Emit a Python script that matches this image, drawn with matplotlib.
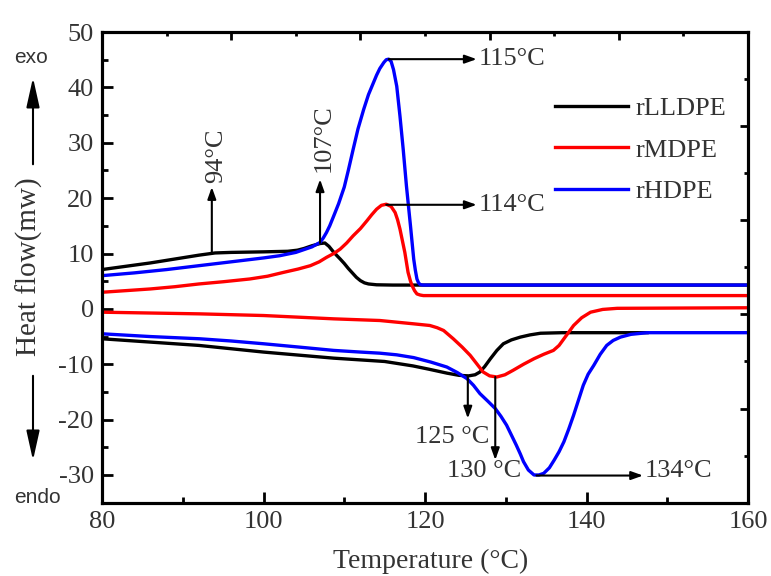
import matplotlib
matplotlib.use("Agg")
import matplotlib.pyplot as plt
from matplotlib.patches import FancyArrowPatch

plt.rcParams['font.family'] = ['Liberation Serif', 'DejaVu Serif']
plt.rcParams['axes.unicode_minus'] = False

# ---------------- data ----------------
# cooling (crystallisation) curves
t_cool_ll = [80, 83, 86, 89, 92, 94, 96, 100, 103, 104.2, 105, 106, 107, 107.6, 108.1, 108.6, 109.1, 109.5, 110.0,
             110.5, 111, 111.5, 112, 112.5, 113, 114, 116, 160]
v_cool_ll = [7.1, 7.7, 8.3, 9.0, 9.7, 10.1, 10.2, 10.3, 10.4, 10.6, 10.9, 11.4, 11.8, 11.9, 11.3, 10.4, 9.6, 9.0, 8.2,
             7.3, 6.5, 5.7, 5.1, 4.7, 4.5, 4.35, 4.3, 4.3]

t_cool_md = [80, 83, 86, 89, 92, 95, 98.3, 100.5, 102.5, 104.3, 105.8, 106.9, 107.8, 108.7, 109.5, 110.3, 111.1, 112,
             112.8, 113.4, 114.0, 114.6, 115.2, 115.8, 116.3, 116.6, 116.9, 117.2, 117.5, 117.9, 118.2, 118.4, 118.7,
             119.0, 119.4, 119.8, 160]
v_cool_md = [3.0, 3.3, 3.6, 4.0, 4.5, 4.9, 5.4, 5.9, 6.6, 7.2, 7.8, 8.5, 9.3, 10.0, 10.8, 11.9, 13.2, 14.5,
             15.9, 17.0, 18.0, 18.7, 18.9, 18.5, 17.4, 16.1, 14.4, 12.3, 10.2, 6.6, 5.0, 4.2, 3.3,
             2.7, 2.5, 2.4, 2.4]

t_cool_hd = [80, 84, 88, 92, 96, 100, 102, 104, 106, 107, 107.4, 107.8, 108.2, 108.7, 109.3, 110, 110.5, 111.1, 111.7,
             112.4, 113.0, 113.6, 114.0, 114.4, 114.9, 115.2, 115.5, 115.8, 116.1, 116.5, 116.9, 117.3, 117.7, 118.2,
             118.6, 118.8, 119.0, 119.2, 119.4, 119.7, 160]
v_cool_hd = [6.0, 6.5, 7.1, 7.8, 8.5, 9.2, 9.6, 10.2, 11.2, 12.0, 12.8, 13.8, 15.0, 16.8, 19.0, 22.0, 25.0, 28.8, 32.5,
             36.0, 38.7, 40.8, 42.2, 43.4, 44.5, 45.0, 45.1, 44.7, 43.2, 40.2, 34.8, 28.8, 22.2, 15.0,
             9.0, 7.0, 5.4, 4.7, 4.4, 4.3, 4.3]

# heating (melting) curves
t_heat_ll = [80, 86, 92, 100, 108.7, 115, 118.5, 120.5, 122.7, 124.2, 125.4, 126.2, 126.8, 127.4, 128.1, 128.9,
             129.7, 130.7, 131.8, 133, 134.3, 137, 147.5]
v_heat_ll = [-5.4, -6.0, -6.6, -7.8, -8.9, -9.5, -10.3, -10.9, -11.6, -12.0, -12.1, -11.9, -11.4, -10.4, -9.0, -7.5,
             -6.3, -5.6, -5.1, -4.7, -4.4, -4.3, -4.3]

t_heat_md = [80, 92.1, 100, 108.7, 114.4, 116.5, 118.6, 120.6, 121.5, 122.3, 123.5, 124.6, 125.6, 126.4, 127.2, 128.0,
             128.9, 129.9, 130.9, 132.2, 133.5, 134.7, 135.9, 136.6, 137.2, 137.8, 138.4, 139.4, 140.5, 142, 143.8, 160]
v_heat_md = [-0.6, -0.9, -1.2, -1.8, -2.1, -2.4, -2.7, -3.0, -3.4, -3.9, -5.4, -6.9, -8.4, -9.9, -11.4, -12.1,
             -12.3, -11.9, -11.1, -10.0, -9.0, -8.2, -7.5, -6.6, -5.4, -4.2, -3.0, -1.6, -0.6, -0.1, 0.1, 0.2]

t_heat_hd = [80, 86, 92.1, 96, 100, 104.4, 108.7, 112, 114.4, 116.5, 118.6, 120.7, 122.7, 124, 125.2, 126, 126.8,
             127.8, 128.7, 129.4, 130.1, 130.7, 131.3, 131.8, 132.2, 132.8, 133.5, 134.1, 134.7, 135.4, 136, 136.6,
             137.2, 137.8, 138.4, 139.0, 139.6, 140.2, 140.9, 141.7, 142.5, 143.3, 144.2, 145.5, 147.5, 160]
v_heat_hd = [-4.5, -5.0, -5.4, -5.8, -6.3, -6.9, -7.5, -7.8, -8.0, -8.3, -8.8, -9.6, -10.5, -11.5, -12.6, -13.8, -15.3,
             -16.7, -18.0, -19.4, -21.0, -22.8, -24.6, -26.2, -27.6, -29.1, -30.0, -30.0, -29.7, -28.7, -27.3, -25.8,
             -24.0, -21.7, -19.2, -16.5, -13.8, -11.8, -10.2, -8.2, -6.6, -5.7, -5.1, -4.6, -4.3, -4.3]

labels = ['rLLDPE', 'rMDPE', 'rHDPE']
colors = ['black', '#ff0000', '#0000ff']

xticks = [80, 100, 120, 140, 160]
yticks = [-30, -20, -10, 0, 10, 20, 30, 40, 50]

# ---------------- figure ----------------
fig = plt.figure(figsize=(7.71, 5.76), dpi=100)
ax = fig.add_axes([0.1323, 0.1273, 0.8379, 0.8171])

lw = 2.4
ax.plot(t_cool_ll, v_cool_ll, color=colors[0], lw=lw, label=labels[0], zorder=3)
ax.plot(t_cool_md, v_cool_md, color=colors[1], lw=lw, label=labels[1], zorder=3)
ax.plot(t_cool_hd, v_cool_hd, color=colors[2], lw=lw, label=labels[2], zorder=3)
ax.plot(t_heat_ll, v_heat_ll, color=colors[0], lw=lw, zorder=3)
ax.plot(t_heat_md, v_heat_md, color=colors[1], lw=lw, zorder=3)
ax.plot(t_heat_hd, v_heat_hd, color=colors[2], lw=lw, zorder=3)

ax.set_xlim(80, 160)
ax.set_ylim(-35, 50)
ax.set_xticks(xticks)
ax.set_xticks([90, 110, 130, 150], minor=True)
ax.set_yticks(yticks)
ax.set_yticks([-25, -15, -5, 5, 15, 25, 35, 45], minor=True)
ax.tick_params(axis='both', which='major', direction='in', length=8, width=2, labelsize=19,
               labelcolor='#333333', pad=6)
ax.tick_params(axis='both', which='minor', direction='in', length=4, width=2)
for s in ax.spines.values():
    s.set_linewidth(2.2)

# top / right ticks dividing axes into ten parts
axt = ax.twiny()
axt.set_xlim(80, 160)
axt.set_xticks([96, 112, 128, 144])
axt.set_xticks([88, 104, 120, 136, 152], minor=True)
axt.tick_params(axis='x', which='major', direction='in', length=6, width=2, labeltop=False)
axt.tick_params(axis='x', which='minor', direction='in', length=3, width=2)
axr = ax.twinx()
axr.set_ylim(-35, 50)
axr.set_yticks([-18, -1, 16, 33])
axr.set_yticks([-26.5, -9.5, 7.5, 24.5, 41.5], minor=True)
axr.tick_params(axis='y', which='major', direction='in', length=6, width=2, labelright=False)
axr.tick_params(axis='y', which='minor', direction='in', length=3, width=2)
for a in (axt, axr):
    for s in a.spines.values():
        s.set_linewidth(2.2)

# annotations
def arrow(xy, xytext):
    ax.annotate('', xy=xy, xytext=xytext,
                arrowprops=dict(arrowstyle='-|>,head_length=0.7,head_width=0.25', lw=1.5, color='black',
                                shrinkA=0, shrinkB=0), zorder=4)

fs = 19
arrow((93.6, 22), (93.6, 10.2))
ax.text(94.1, 22.8, '94°C', rotation=90, ha='center', va='bottom', fontsize=fs, color='#333333')
arrow((107.0, 23.4), (107.0, 11.9))
ax.text(107.4, 24.8, '107°C', rotation=90, ha='center', va='bottom', fontsize=fs, color='#333333')
arrow((126.4, 45.1), (115.5, 45.1))
ax.text(126.6, 45.1, '115°C', ha='left', va='center', fontsize=fs, color='#333333')
arrow((126.4, 18.8), (115.2, 18.8))
ax.text(126.6, 18.8, '114°C', ha='left', va='center', fontsize=fs, color='#333333')
arrow((125.3, -19.8), (125.3, -12.1))
ax.text(123.4, -23.2, '125 °C', ha='center', va='center', fontsize=fs, color='#333333')
arrow((128.7, -27.3), (128.7, -12.3))
ax.text(127.3, -29.3, '130 °C', ha='center', va='center', fontsize=fs, color='#333333')
arrow((147.0, -30.1), (133.8, -30.1))
ax.text(147.2, -29.3, '134°C', ha='left', va='center', fontsize=fs, color='#333333')

leg = ax.legend(loc='upper left', bbox_to_anchor=(0.701, 0.862), frameon=False, fontsize=fs,
                handlelength=2.77, handletextpad=0.27, labelspacing=0.67, borderpad=0, borderaxespad=0)
for t in leg.get_texts():
    t.set_color('#333333')

# axis labels
fig.text(0.0376, 0.5365, 'Heat flow(mw)', rotation=90, ha='center', va='center', fontsize=21, color='#333333')
fig.text(0.558, 0.004, 'Temperature (°C)', ha='center', va='bottom', fontsize=20, color='#333333')

# exo / endo indicators
fig.text(0.040, 0.901, 'exo', ha='center', va='center', fontsize=15, family='Liberation Sans', color='#333333')
fig.text(0.048, 0.137, 'endo', ha='center', va='center', fontsize=15, family='Liberation Sans', color='#333333')
style = '-|>,head_length=1.8,head_width=0.4'
fig.add_artist(FancyArrowPatch((0.0428, 0.710), (0.0428, 0.870), transform=fig.transFigure,
                               arrowstyle=style, lw=1.5, color='black', mutation_scale=10))
fig.add_artist(FancyArrowPatch((0.0428, 0.3524), (0.0428, 0.196), transform=fig.transFigure,
                               arrowstyle=style, lw=1.5, color='black', mutation_scale=10))

fig.savefig('out.png', dpi=100)
